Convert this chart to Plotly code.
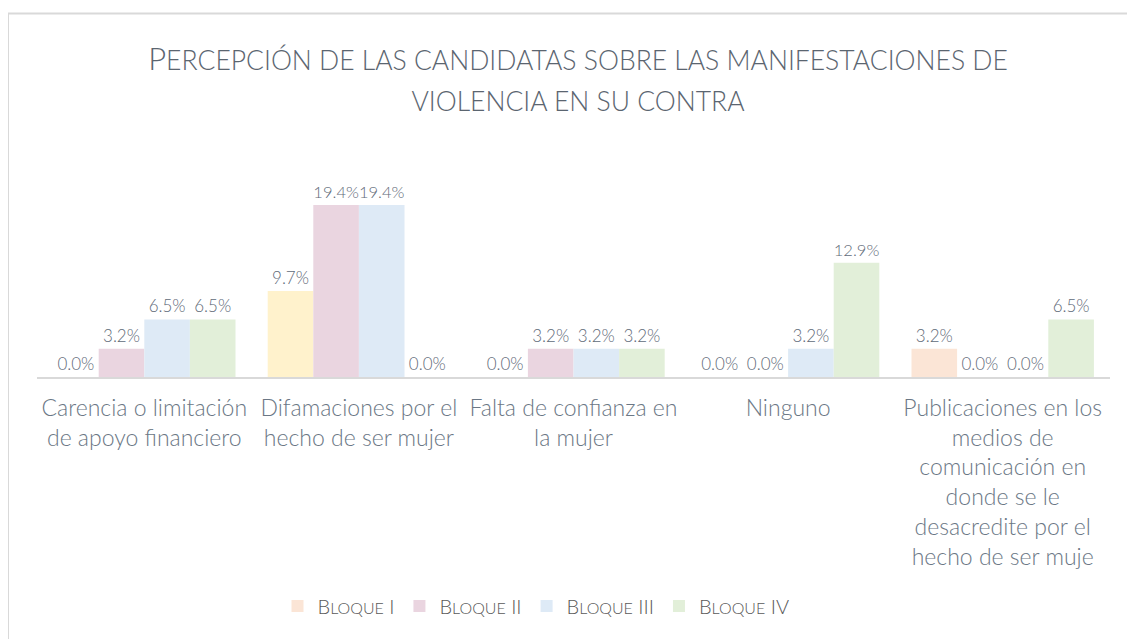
import plotly.graph_objects as go

categories = [
    "Carencia o limitación<br>de apoyo financiero",
    "Difamaciones por el<br>hecho de ser mujer",
    "Falta de confianza en<br>la mujer",
    "Ninguno",
    "Publicaciones en los<br>medios de<br>comunicación en<br>donde se le<br>desacredite por el<br>hecho de ser muje",
]
series_names = ["I", "II", "III", "IV"]
bloque_1 = [0.0, 9.7, 0.0, 0.0, 3.2]
bloque_2 = [3.2, 19.4, 3.2, 0.0, 0.0]
bloque_3 = [6.5, 19.4, 3.2, 3.2, 0.0]
bloque_4 = [6.5, 0.0, 3.2, 12.9, 6.5]

colors_1 = ["#FBE5D6", "#FFF2CC", "#FBE5D6", "#FBE5D6", "#FBE5D6"]
color_2 = "#EAD5E0"
color_3 = "#DEEAF6"
color_4 = "#E2EFD9"

FONT = "Lato"
LABEL_COLOR = "#6B7785"
DATA_COLOR = "#5F6B79"
TITLE_COLOR = "#5B6570"

W, H = 1127, 631
L, R, T, B = 29, 25, 174, 262
PW, PH = W - L - R, H - T - B

def legend_html(roman):
    return f"B<span style='font-size:16px'>LOQUE</span> {roman}"

fig = go.Figure()
all_series = [bloque_1, bloque_2, bloque_3, bloque_4]
all_colors = [colors_1, color_2, color_3, color_4]
for name, vals, col in zip(series_names, all_series, all_colors):
    fig.add_trace(go.Bar(
        x=categories, y=vals, name=legend_html(name),
        marker=dict(color=col, line=dict(width=0)),
        texttemplate="%{y:.1f}%", textposition="outside",
        textfont=dict(family=FONT, size=17, color=DATA_COLOR, weight=300),
        cliponaxis=False,
    ))

title_text = (
    "<span style='font-size:31px'>P</span><span style='font-size:26.5px'>ERCEPCIÓN DE LAS CANDIDATAS SOBRE LAS MANIFESTACIONES DE</span>"
    "<br><span style='font-size:26.5px'>VIOLENCIA EN SU CONTRA</span>"
)

fig.update_layout(
    width=W, height=H,
    margin=dict(l=L, r=R, t=T, b=B, autoexpand=False),
    paper_bgcolor="white", plot_bgcolor="white",
    barmode="group", bargap=0.15, bargroupgap=0,
    title=dict(text=title_text, x=570 / W, xanchor="center", y=0.902, yanchor="middle",
               font=dict(family=FONT, size=32, color=TITLE_COLOR, weight=300)),
    font=dict(family=FONT, color=LABEL_COLOR),
    legend=dict(orientation="h", x=(528 - L) / PW, xanchor="center",
                y=(369 - 598) / PH, yanchor="middle",
                font=dict(family=FONT, size=20, color="#595959", weight=300),
                traceorder="normal"),
    showlegend=True,
)

fig.update_xaxes(
    tickfont=dict(family=FONT, size=23, color=LABEL_COLOR, weight=300),
    showline=True, linecolor="#D9D9D9", linewidth=2,
    ticks="outside", ticklen=9, tickcolor="rgba(0,0,0,0)",
    showgrid=False, zeroline=False, automargin=False,
)
fig.update_yaxes(range=[0, 22], visible=False, showgrid=False, zeroline=False)

# outer frame
fig.add_shape(type="rect", xref="paper", yref="paper",
              x0=(0 - L) / PW, x1=1.2, y0=-2.0, y1=1 + (T - 5.5) / PH,
              line=dict(color="#D9D9D9", width=2), fillcolor="rgba(0,0,0,0)", layer="below")

fig.write_html("out.html")
